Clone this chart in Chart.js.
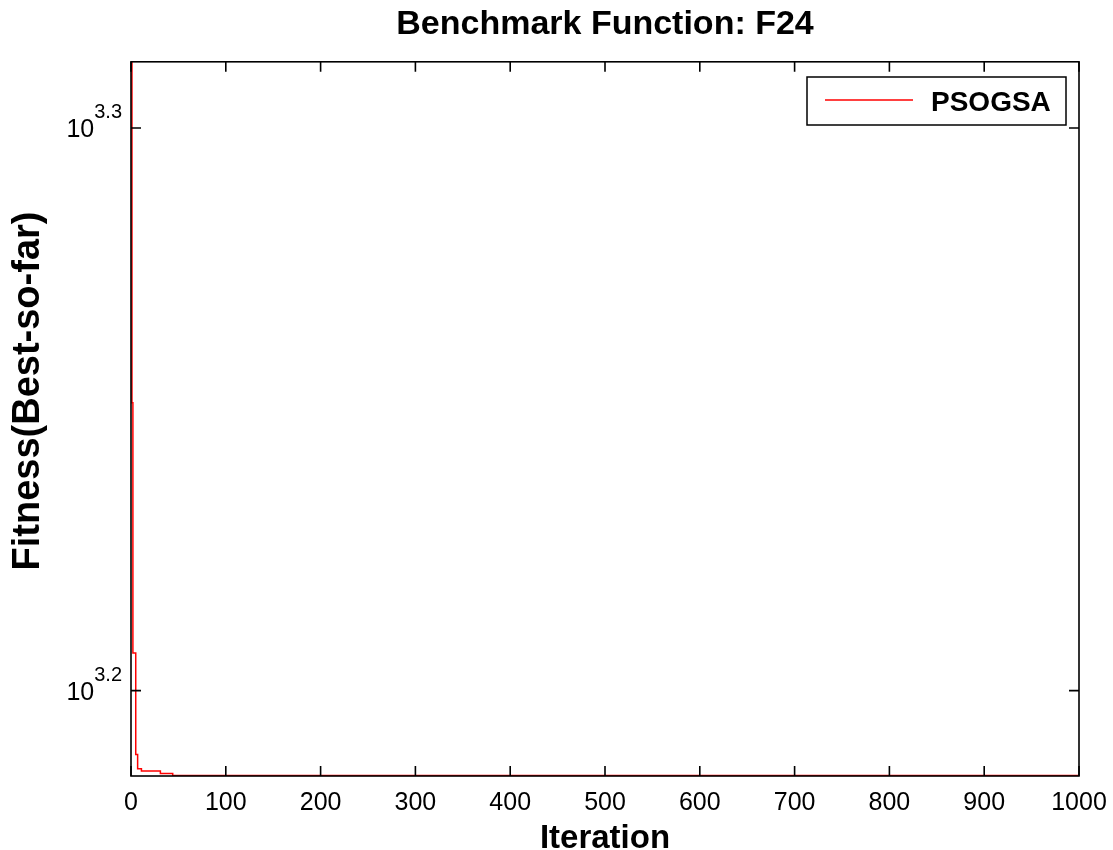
<!DOCTYPE html>
<html>
<head>
<meta charset="utf-8">
<title>Benchmark Function: F24</title>
<script src="https://cdn.jsdelivr.net/npm/chart.js@4.4.1/dist/chart.umd.min.js"></script>
<style>
    html, body { margin: 0; padding: 0; background: #fff; }
    #wrap { width: 1113px; height: 850px; position: relative; }
</style>
</head>
<body>
<div id="wrap"><canvas id="fitnessChart"></canvas></div>
<script>
// Best-so-far fitness of PSOGSA on F24
// (each point is the iteration where a new best value starts)
const iterations = [1, 2, 5, 7, 11, 31, 44, 973, 1000];
const fitness = [2200, 1783, 1609.5, 1544, 1535, 1533.6, 1532, 1530.8, 1530.8];

const seriesLabel = 'PSOGSA';
const xTicks = [0, 100, 200, 300, 400, 500, 600, 700, 800, 900, 1000];
const yTickExponents = [3.2, 3.3];

const FONT = '"Liberation Sans", Arial, Helvetica, sans-serif';
Chart.defaults.font.family = FONT;
Chart.defaults.color = '#000';

// MATLAB-like box, inward ticks, 10^x labels, legend and y title
const matlabFrame = {
    id: 'matlabFrame',
    afterDatasetsDraw(chart) {
        const { ctx, chartArea: a, scales: { x, y } } = chart;
        const tickLen = 10;
        ctx.save();
        ctx.strokeStyle = '#000';
        ctx.lineWidth = 1.6;
        ctx.strokeRect(a.left, a.top, a.right - a.left, a.bottom - a.top);

        ctx.beginPath();
        x.ticks.forEach(t => {
            const px = x.getPixelForValue(t.value);
            ctx.moveTo(px, a.bottom); ctx.lineTo(px, a.bottom - tickLen);
            ctx.moveTo(px, a.top); ctx.lineTo(px, a.top + tickLen);
        });
        y.ticks.forEach(t => {
            const py = y.getPixelForValue(t.value);
            ctx.moveTo(a.left, py); ctx.lineTo(a.left + tickLen, py);
            ctx.moveTo(a.right, py); ctx.lineTo(a.right - tickLen, py);
        });
        ctx.stroke();

        // y tick labels as 10 with a raised exponent
        ctx.fillStyle = '#000';
        ctx.textBaseline = 'alphabetic';
        ctx.textAlign = 'right';
        yTickExponents.forEach(e => {
            const py = y.getPixelForValue(Math.pow(10, e));
            const expText = e.toFixed(1);
            ctx.font = '20px ' + FONT;
            const expW = ctx.measureText(expText).width;
            ctx.fillText(expText, a.left - 9, py - 10);
            ctx.font = '25px ' + FONT;
            ctx.fillText('10', a.left - 9 - expW, py + 9);
        });

        // legend box
        const lx = 807, ly = 77, lw = 259, lh = 48;
        ctx.fillStyle = '#fff';
        ctx.fillRect(lx, ly, lw, lh);
        ctx.strokeStyle = '#000';
        ctx.lineWidth = 1.5;
        ctx.strokeRect(lx, ly, lw, lh);
        const ds = chart.data.datasets[0];
        ctx.strokeStyle = ds.borderColor;
        ctx.lineWidth = 1.5;
        ctx.beginPath();
        ctx.moveTo(lx + 18, ly + 23);
        ctx.lineTo(lx + 106, ly + 23);
        ctx.stroke();
        ctx.fillStyle = '#000';
        ctx.font = 'bold 28px ' + FONT;
        ctx.textAlign = 'left';
        ctx.textBaseline = 'middle';
        ctx.fillText(ds.label, lx + 124, ly + 26);

        // y axis title
        ctx.font = 'bold 38px ' + FONT;
        ctx.textAlign = 'center';
        ctx.textBaseline = 'alphabetic';
        ctx.translate(39, 391);
        ctx.rotate(-Math.PI / 2);
        ctx.fillText('Fitness(Best-so-far)', 0, 0);
        ctx.restore();
    }
};

const ctx = document.getElementById('fitnessChart');

new Chart(ctx, {
    type: 'line',
    data: {
        datasets: [{
            label: seriesLabel,
            data: iterations.map((it, i) => ({ x: it, y: fitness[i] })),
            borderColor: '#ff0000',
            borderWidth: 1.5,
            pointRadius: 0,
            stepped: 'after',
            fill: false
        }]
    },
    options: {
        responsive: true,
        maintainAspectRatio: false,
        animation: false,
        layout: { padding: { left: 0, right: 34, top: 0, bottom: 0 } },
        plugins: {
            legend: { display: false },
            tooltip: { enabled: false },
            title: {
                display: true,
                fullSize: false,
                text: 'Benchmark Function: F24',
                color: '#000',
                font: { size: 34, weight: 'bold' },
                padding: { top: 4, bottom: 17 }
            }
        },
        scales: {
            x: {
                type: 'linear',
                min: 0,
                max: 1000,
                afterBuildTicks: s => { s.ticks = xTicks.map(v => ({ value: v })); },
                afterFit: s => { s.height = 74; },
                grid: { display: false },
                border: { display: false },
                ticks: {
                    font: { size: 25 },
                    color: '#000',
                    padding: 4,
                    maxRotation: 0,
                    autoSkip: false,
                    callback: v => String(v)
                },
                title: {
                    display: true,
                    text: 'Iteration',
                    color: '#000',
                    font: { size: 33, weight: 'bold', lineHeight: 0.7 },
                    padding: 0
                }
            },
            y: {
                type: 'logarithmic',
                min: 1530.5,
                max: 2050,
                afterBuildTicks: s => { s.ticks = yTickExponents.map(e => ({ value: Math.pow(10, e) })); },
                afterFit: s => { s.width = 131; },
                grid: { display: false },
                border: { display: false },
                ticks: { display: false }
            }
        }
    },
    plugins: [matlabFrame]
});
</script>
</body>
</html>
